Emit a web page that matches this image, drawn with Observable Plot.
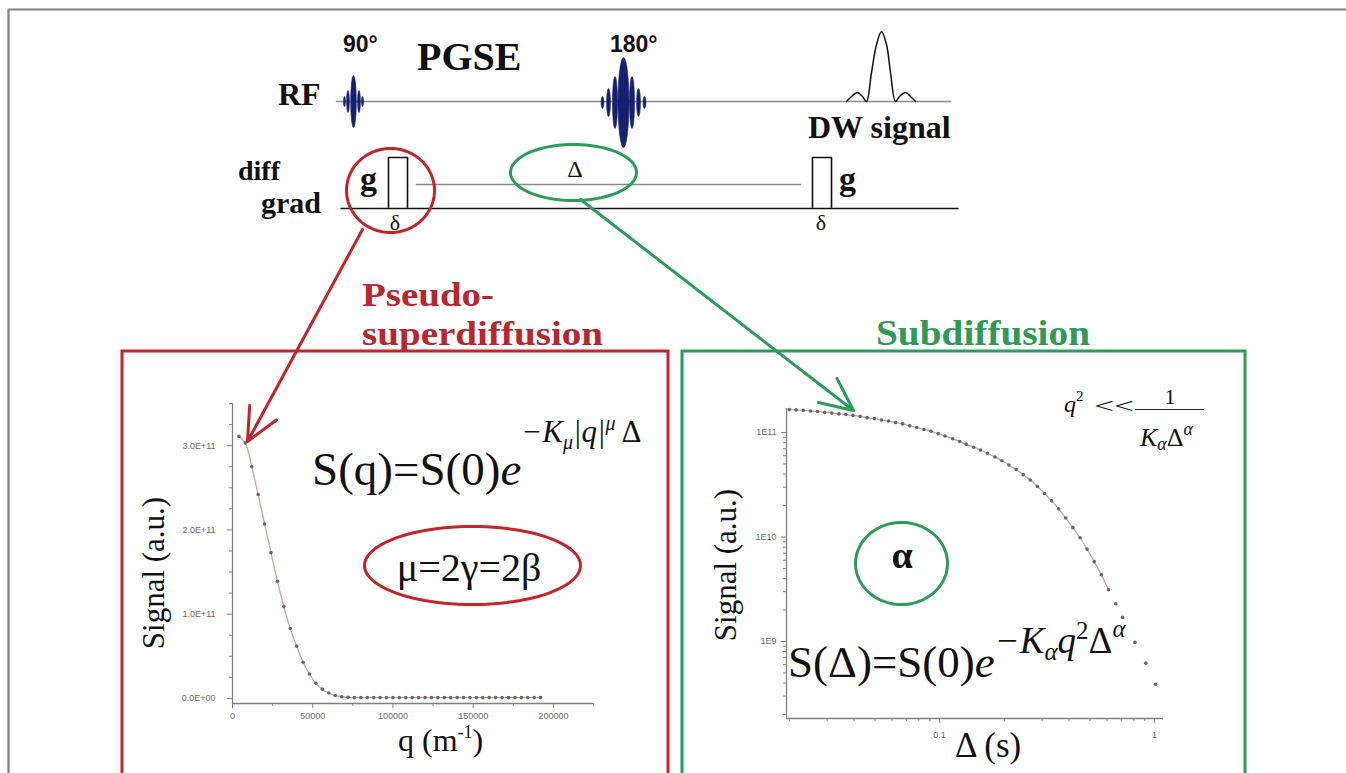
<!DOCTYPE html>
<html>
<head>
<meta charset="utf-8">
<script src="https://cdn.jsdelivr.net/npm/d3@7"></script>
<script src="https://cdn.jsdelivr.net/npm/@observablehq/plot@0.6"></script>
<style>
  html, body { margin: 0; padding: 0; background: #fff; }
  #wrap { position: relative; width: 1346px; height: 773px; overflow: hidden; background: #fff; }
  #wrap svg { position: absolute; left: 0; top: 0; background: transparent !important; max-width: none !important; }
</style>
</head>
<body>
<div id="wrap"></div>
<script>
// ---------------- DATA ----------------
// Left panel: signal vs q (m^-1)
const qValues = [4000, 8000, 12000, 16000, 20000, 24000, 28000, 32000, 36000, 40000,
  44000, 48000, 52000, 56000, 60000, 64000, 68000, 72000, 76000, 80000,
  84000, 88000, 92000, 96000, 100000, 104000, 108000, 112000, 116000, 120000,
  124000, 128000, 132000, 136000, 140000, 144000, 148000, 152000, 156000, 160000,
  164000, 168000, 172000, 176000, 180000, 184000, 188000, 192000];
const qSignal = [3.11e11, 3.03e11, 2.75e11, 2.42e11, 2.07e11, 1.73e11, 1.39e11, 1.09e11, 0.83e11, 0.62e11,
  0.43e11, 0.29e11, 0.18e11, 0.11e11, 0.065e11, 0.035e11, 0.02e11, 0.013e11, 0.01e11, 0.01e11,
  0.01e11, 0.01e11, 0.01e11, 0.01e11, 0.01e11, 0.01e11, 0.01e11, 0.01e11, 0.01e11, 0.01e11,
  0.01e11, 0.01e11, 0.01e11, 0.01e11, 0.01e11, 0.01e11, 0.01e11, 0.01e11, 0.01e11, 0.01e11,
  0.01e11, 0.01e11, 0.01e11, 0.01e11, 0.01e11, 0.01e11, 0.01e11, 0.01e11];
const leftYTicks = [0, 1e11, 2e11, 3e11];
const leftYLabels = ["0.0E+00", "1.0E+11", "2.0E+11", "3.0E+11"];
const leftYMinor = [0.25e11, 0.5e11, 0.75e11, 1.25e11, 1.5e11, 1.75e11, 2.25e11, 2.5e11, 2.75e11, 3.25e11, 3.5e11];
const leftXTicks = [0, 50000, 100000, 150000, 200000];
const leftXLabels = ["0", "50000", "100000", "150000", "200000"];
const leftXMinor = [25000, 75000, 125000, 175000, 225000];

// Right panel: signal vs diffusion time Delta (s), log-log
const deltaValues = [0.0200, 0.0215, 0.0232, 0.0251, 0.0270, 0.0292, 0.0315, 0.0340, 0.0366, 0.0395,
  0.0427, 0.0460, 0.0497, 0.0536, 0.0578, 0.0624, 0.0673, 0.0726, 0.0783, 0.0845,
  0.0912, 0.0984, 0.106, 0.115, 0.124, 0.133, 0.144, 0.155, 0.167, 0.181,
  0.195, 0.210, 0.227, 0.245, 0.264, 0.285, 0.308, 0.332, 0.358, 0.386,
  0.417, 0.450, 0.485, 0.524, 0.565, 0.610, 0.66, 0.71, 0.81, 0.91, 1.01];
const deltaSignal = [1.66e11, 1.65e11, 1.63e11, 1.61e11, 1.59e11, 1.56e11, 1.54e11, 1.51e11, 1.49e11, 1.46e11,
  1.43e11, 1.39e11, 1.36e11, 1.32e11, 1.29e11, 1.25e11, 1.21e11, 1.16e11, 1.12e11, 1.07e11,
  1.03e11, 9.77e10, 9.27e10, 8.73e10, 8.20e10, 7.72e10, 7.24e10, 6.81e10, 6.34e10, 5.83e10,
  5.37e10, 4.90e10, 4.42e10, 3.95e10, 3.52e10, 3.05e10, 2.61e10, 2.22e10, 1.86e10, 1.52e10,
  1.23e10, 9.84e9, 7.66e9, 5.81e9, 4.35e9, 3.13e9, 2.3e9, 1.7e9, 9.8e8, 6.2e8, 3.9e8];
const fitCount = 46; // fitted curve drawn through the first points only
const rightYTicks = [1e9, 1e10, 1e11];
const rightYLabels = ["1E9", "1E10", "1E11"];
const rightXTicks = [0.1, 1];
const rightXLabels = ["0.1", "1"];
const rightYMinor = [2e8,3e8,4e8,5e8,6e8,7e8,8e8,9e8,2e9,3e9,4e9,5e9,6e9,7e9,8e9,9e9,2e10,3e10,4e10,5e10,6e10,7e10,8e10,9e10];
const rightXMinor = [0.02,0.03,0.04,0.05,0.06,0.07,0.08,0.09,0.2,0.3,0.4,0.5,0.6,0.7,0.8,0.9];

// ---------------- COLOURS ----------------
const RED = "#c5242b", GREEN = "#2b9c5c", NAVY = "#16206e";
const W = 1346, H = 773;
const wrap = document.getElementById("wrap");

const qData = qValues.map((q, i) => ({q, s: qSignal[i]}));
const dData = deltaValues.slice(0, deltaSignal.length).map((d, i) => ({d, s: deltaSignal[i]}));

const axisStyle = {background: "transparent", color: "#707070", fontFamily: "Liberation Sans, Arial, sans-serif", fontSize: "9px", overflow: "visible"};

// ---------------- LEFT CHART ----------------
const left = Plot.plot({
  width: W, height: H,
  marginLeft: 232, marginRight: W - 593, marginTop: 403, marginBottom: H - 703,
  style: axisStyle,
  x: {domain: [0, 225000], label: null},
  y: {domain: [-0.06e11, 3.5e11], label: null},
  marks: [
    Plot.axisY(leftYMinor, {tickSize: 3, tickFormat: () => "", stroke: "#808080"}),
    Plot.axisY(leftYTicks, {tickSize: 5, tickPadding: 12, tickFormat: d => leftYLabels[leftYTicks.indexOf(d)], stroke: "#808080", fill: "#6a6a6a"}),
    Plot.axisX(leftXMinor, {tickSize: 3, tickFormat: () => "", stroke: "#808080"}),
    Plot.axisX(leftXTicks, {tickSize: 5, tickPadding: 4, tickFormat: d => leftXLabels[leftXTicks.indexOf(d)], stroke: "#808080", fill: "#6a6a6a"}),
    Plot.ruleX([0], {y1: -0.06e11, y2: 3.5e11, stroke: "#808080", strokeWidth: 1.3}),
    Plot.ruleY([-0.06e11], {x1: 0, x2: 225000, stroke: "#808080", strokeWidth: 1.3}),
    Plot.line(qData, {x: "q", y: "s", curve: "catmull-rom", stroke: "#c9a3a3", strokeWidth: 1.3}),
    Plot.dot(qData, {x: "q", y: "s", r: 1.8, fill: "#666", stroke: "none"})
  ]
});
wrap.appendChild(left);

// ---------------- RIGHT CHART ----------------
const right = Plot.plot({
  width: W, height: H,
  marginLeft: 786, marginRight: W - 1163, marginTop: 408, marginBottom: H - 718,
  style: axisStyle,
  x: {type: "log", domain: [0.0194, 1.10], label: null},
  y: {type: "log", domain: [1.83e8, 1.70e11], label: null},
  marks: [
    Plot.axisY(rightYMinor, {tickSize: 3, tickFormat: () => "", stroke: "#808080"}),
    Plot.axisY(rightYTicks, {tickSize: 5, tickPadding: 5, tickFormat: d => rightYLabels[rightYTicks.indexOf(d)], stroke: "#808080", fill: "#6a6a6a"}),
    Plot.axisX(rightXMinor, {tickSize: 3, tickFormat: () => "", stroke: "#808080"}),
    Plot.axisX(rightXTicks, {tickSize: 5, tickPadding: 8, tickFormat: d => rightXLabels[rightXTicks.indexOf(d)], stroke: "#808080", fill: "#6a6a6a"}),
    Plot.ruleX([0.0194], {y1: 1.83e8, y2: 1.70e11, stroke: "#808080", strokeWidth: 1.3}),
    Plot.ruleY([1.83e8], {x1: 0.0194, x2: 1.10, stroke: "#808080", strokeWidth: 1.3}),
    Plot.line(dData.slice(0, fitCount), {x: "d", y: "s", curve: "catmull-rom", stroke: "#c9a3a3", strokeWidth: 1.3}),
    Plot.dot(dData, {x: "d", y: "s", r: 1.8, fill: "#666", stroke: "none"})
  ]
});
wrap.appendChild(right);

// ---------------- DIAGRAM OVERLAY (pixel scales) ----------------
function ellipse(cx, cy, rx, ry, id, n = 96) {
  return d3.range(n + 1).map(i => {
    const t = 2 * Math.PI * i / n;
    return {x: cx + rx * Math.cos(t), y: cy + ry * Math.sin(t), id};
  });
}
function pulse(cx, cy, offsets, halfH, halfW, tag) {
  return offsets.flatMap((o, i) => ellipse(cx + o, cy, halfW[i], halfH[i], tag + i, 40));
}
const lobes = [
  ...pulse(353, 101, [-9, -5.5, 0, 5.5, 9], [5, 11, 26, 11, 5], [1, 1.4, 2.8, 1.4, 1], "p90_"),
  ...pulse(623, 102, [-21, -15, -8.5, 0, 8.5, 15, 21], [6, 14, 26, 45, 26, 14, 6], [1.4, 1.9, 2.5, 5.5, 2.5, 1.9, 1.4], "p180_")
];
const echo = [[846,101],[851,96],[857,92],[862,96],[866,101],[871,72],[876,44],[881,31],[886,44],[890,72],[895,101],[899,96],[905,92],[910,96],[915,101]].map(([x, y]) => ({x, y}));
const seg = (pts, id) => pts.map(([x, y]) => ({x, y, id}));
const blackLines = [
  ...seg([[340,208],[958,208]], "base"),
  ...seg([[388,208],[388,157],[407,157],[407,208]], "g1"),
  ...seg([[812,208],[812,157],[831,157],[831,208]], "g2")
];
const grayLines = [
  ...seg([[336,101],[950,101]], "rf"),
  ...seg([[416,184],[800,184]], "delta")
];
const redEll = [...ellipse(390, 190, 44, 42, "r1"), ...ellipse(472, 565, 108, 39, "r2")];
const greenEll = [...ellipse(573, 172, 63, 28, "g1"), ...ellipse(901, 563, 46, 41, "g2")];

const overlay = Plot.plot({
  width: W, height: H, margin: 0,
  style: {background: "transparent", overflow: "visible"},
  x: {domain: [0, W], range: [0, W], axis: null},
  y: {domain: [0, H], range: [0, H], axis: null},
  marks: [
    Plot.line(seg([[8,773],[8,9],[1346,9]], "border"), {x: "x", y: "y", stroke: "#808080", strokeWidth: 2.2}),
    Plot.rect([{x1: 122, x2: 668, y1: 351, y2: 790}], {x1: "x1", x2: "x2", y1: "y1", y2: "y2", fill: "none", stroke: RED, strokeWidth: 3}),
    Plot.rect([{x1: 682, x2: 1245, y1: 351, y2: 790}], {x1: "x1", x2: "x2", y1: "y1", y2: "y2", fill: "none", stroke: GREEN, strokeWidth: 3}),
    Plot.line(grayLines, {x: "x", y: "y", z: "id", stroke: "#8a8a8a", strokeWidth: 1.5}),
    Plot.line(blackLines, {x: "x", y: "y", z: "id", stroke: "#111", strokeWidth: 1.6, strokeLinecap: "butt"}),
    Plot.line(lobes, {x: "x", y: "y", z: "id", fill: NAVY, stroke: NAVY, strokeWidth: 0.6}),
    Plot.line(echo, {x: "x", y: "y", curve: "catmull-rom", stroke: "#111", strokeWidth: 1.5}),
    Plot.line(redEll, {x: "x", y: "y", z: "id", stroke: RED, strokeWidth: 3}),
    Plot.line(greenEll, {x: "x", y: "y", z: "id", stroke: GREEN, strokeWidth: 3}),
    Plot.line(seg([[1135,409],[1203,409]], "frac"), {x: "x", y: "y", stroke: "#222", strokeWidth: 1.2}),
    Plot.arrow([{x1: 362, y1: 229, x2: 247, y2: 441}], {x1: "x1", y1: "y1", x2: "x2", y2: "y2", stroke: RED, strokeWidth: 3, headLength: 18, headAngle: 50}),
    Plot.arrow([{x1: 580, y1: 199, x2: 853, y2: 410}], {x1: "x1", y1: "y1", x2: "x2", y2: "y2", stroke: GREEN, strokeWidth: 3, headLength: 18, headAngle: 50})
  ]
});
wrap.appendChild(overlay);

// ---------------- TEXT ----------------
const g = d3.select(overlay).append("g");
const SERIF = "Liberation Serif, Times New Roman, serif";
const SANS = "Liberation Sans, Arial, sans-serif";
function txt(x, y, parts, o = {}) {
  const t = g.append("text").attr("x", x).attr("y", y)
    .attr("font-family", o.family || SERIF)
    .attr("font-size", o.size || 20)
    .attr("font-weight", o.weight || "normal")
    .attr("fill", o.fill || "#111")
    .attr("text-anchor", o.anchor || "start");
  if (o.rotate) t.attr("transform", `rotate(${o.rotate},${x},${y})`);
  if (o.textLength) t.attr("textLength", o.textLength).attr("lengthAdjust", "spacingAndGlyphs");
  if (o.italic) t.attr("font-style", "italic");
  for (const p of (typeof parts === "string" ? [{t: parts}] : parts)) {
    const s = t.append("tspan").text(p.t);
    if (p.size) s.attr("font-size", p.size);
    if (p.italic) s.attr("font-style", "italic");
    if (p.dy) s.attr("dy", p.dy);
    if (p.weight) s.attr("font-weight", p.weight);
  }
  return t;
}

// pulse sequence labels
txt(343, 52, "90°", {family: SANS, size: 23, weight: "bold"});
txt(610, 52, "180°", {family: SANS, size: 23, weight: "bold"});
txt(417, 70, "PGSE", {size: 40, weight: "bold"});
txt(278, 105, "RF", {size: 32, weight: "bold"});
txt(808, 138, "DW signal", {size: 32, weight: "bold"});
txt(238, 180, "diff", {size: 28, weight: "bold"});
txt(261, 213, "grad", {size: 30, weight: "bold"});
txt(360, 190, "g", {size: 34, weight: "bold"});
txt(839, 190, "g", {size: 34, weight: "bold"});
txt(395, 230, "δ", {size: 22, anchor: "middle"});
txt(821, 230, "δ", {size: 22, anchor: "middle"});
txt(575, 177, "Δ", {size: 24, anchor: "middle"});

// regime labels
txt(362, 306, "Pseudo-", {size: 34, weight: "bold", fill: "#b8262e", textLength: 132});
txt(362, 345, "superdiffusion", {size: 34, weight: "bold", fill: "#b8262e", textLength: 241});
txt(876, 345, "Subdiffusion", {size: 36, weight: "bold", fill: "#2e9a56", textLength: 214});

// left panel formulas
txt(312, 485, [
  {t: "S(q)=S(0)"}, {t: "e", italic: true},
  {t: "−K", italic: true, size: 31, dy: -43},
  {t: "μ", italic: true, size: 20, dy: 7},
  {t: "|q|", italic: true, size: 31, dy: -7},
  {t: "μ", italic: true, size: 20, dy: -12},
  {t: " Δ", size: 31, dy: 12}
], {size: 47});
txt(469, 581, "μ=2γ=2β", {size: 40, anchor: "middle"});
txt(164, 573, "Signal (a.u.)", {size: 31, anchor: "middle", rotate: -90});
txt(398, 751, [{t: "q (m"}, {t: "-1", size: 18, dy: -13}, {t: ")", dy: 13}], {size: 32});

// right panel formulas
txt(788, 677, [
  {t: "S(Δ)=S(0)"}, {t: "e", italic: true},
  {t: "−K", italic: true, size: 37, dy: -24},
  {t: "α", italic: true, size: 25, dy: 7},
  {t: "q", italic: true, size: 37, dy: -7},
  {t: "2", size: 25, dy: -14},
  {t: "Δ", size: 37, dy: 14},
  {t: "α", italic: true, size: 25, dy: -16}
], {size: 45});
txt(902, 568, "α", {size: 38, weight: "bold", anchor: "middle"});
txt(736, 565, "Signal (a.u.)", {size: 31, anchor: "middle", rotate: -90});
txt(955, 757, "Δ (s)", {size: 35});

// condition q^2 << 1/(K_α Δ^α)
txt(1064, 412, [{t: "q", italic: true}, {t: "2", size: 15, dy: -11}], {size: 24});
txt(1094, 413, "<<", {size: 22, textLength: 40});
txt(1170, 404, "1", {size: 22, anchor: "middle"});
txt(1140, 446, [
  {t: "K", italic: true}, {t: "α", italic: true, size: 18, dy: 4},
  {t: "Δ", dy: -4}, {t: "α", italic: true, size: 18, dy: -11}
], {size: 26});
</script>
</body>
</html>
